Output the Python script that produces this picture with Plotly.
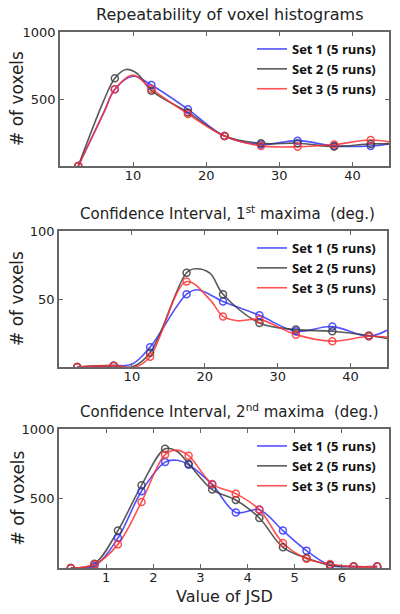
import plotly.graph_objects as go

# ---------------- data ----------------
# Panel 1: Repeatability of voxel histograms (marker positions)
x1 = [2.5, 7.5, 12.5, 17.5, 22.5, 27.5, 32.5, 37.5, 42.5]
p1_set1 = [0, 572, 604, 423, 224, 160, 189, 150, 149]
p1_set2 = [0, 654, 562, 400, 224, 169, 170, 145, 165]
p1_set3 = [0, 572, 575, 388, 224, 150, 144, 160, 194]
# curve readings (including peaks between markers and the right edge)
l1_set1_x = [2.5, 6, 7.5, 10, 12.5, 17.5, 22.5, 27.5, 32.5, 37.5, 42.5, 45]
l1_set1_y = [0, 400, 572, 670, 604, 423, 224, 160, 189, 150, 149, 165]
l1_set2_x = [2.5, 6, 7.5, 9, 10.5, 12.5, 17.5, 22.5, 27.5, 32.5, 37.5, 42.5, 45]
l1_set2_y = [0, 490, 654, 720, 692, 562, 400, 224, 169, 170, 145, 165, 165]
l1_set3_x = [2.5, 6, 7.5, 10, 12.5, 17.5, 22.5, 27.5, 32.5, 37.5, 42.5, 45]
l1_set3_y = [0, 400, 572, 678, 575, 388, 224, 150, 144, 160, 194, 180]

# Panel 2: Confidence Interval, 1st maxima
x2 = [2.5, 7.5, 12.5, 17.5, 22.5, 27.5, 32.5, 37.5, 42.5]
p2_set1 = [0, 1, 14.6, 53.5, 48.2, 38, 26.3, 29.7, 22.6]
p2_set2 = [0, 1, 10.5, 69.3, 53.5, 32.4, 27.5, 26.3, 23.1]
p2_set3 = [0, 1, 7.5, 62.8, 37.2, 35, 23.8, 19, 22.6]
l2_set1_x = [2.5, 7.5, 10, 12.5, 17.5, 19, 22.5, 27.5, 32.5, 37.5, 42.5, 45]
l2_set1_y = [0, 1, 2, 14.6, 53.5, 56.8, 48.2, 38, 26.3, 29.7, 22.6, 27]
l2_set2_x = [2.5, 7.5, 10, 12.5, 17.5, 18.7, 20.7, 22.5, 27.5, 32.5, 37.5, 42.5, 45]
l2_set2_y = [0, 1, 0, 10.5, 69.3, 72.2, 69, 53.5, 32.4, 27.5, 26.3, 23.1, 21]
l2_set3_x = [2.5, 7.5, 10.5, 12.5, 17.5, 20.7, 22.5, 24.5, 27.5, 32.5, 37.5, 42.5, 45]
l2_set3_y = [0, 1, 0, 7.5, 62.8, 49.5, 37.2, 34, 35, 23.8, 19, 22.6, 22]

# Panel 3: Confidence Interval, 2nd maxima
x3 = [0.25, 0.75, 1.25, 1.75, 2.25, 2.75, 3.25, 3.75, 4.25, 4.75, 5.25, 5.75, 6.25, 6.75]
p3_set1 = [0, 15, 216, 552, 762, 743, 600, 400, 419, 269, 125, 20, 10, 10]
p3_set2 = [0, 30, 269, 595, 858, 750, 564, 489, 360, 149, 72, 20, 10, 10]
p3_set3 = [0, 25, 170, 475, 815, 808, 604, 535, 420, 180, 67, 29, 10, 10]
l3_set1_x = [0.25, 0.75, 1.25, 1.75, 2.25, 2.5, 2.75, 3.25, 3.75, 4.25, 4.75, 5.25, 5.75, 6.25, 6.75]
l3_set1_y = [0, 15, 216, 552, 762, 775, 743, 600, 400, 419, 269, 125, 20, 10, 10]
l3_set2_x = [0.25, 0.75, 1.25, 1.75, 2.25, 2.5, 2.75, 3.25, 3.75, 4.25, 4.75, 5.25, 5.75, 6.25, 6.75]
l3_set2_y = [0, 30, 269, 595, 858, 840, 750, 564, 489, 360, 149, 72, 20, 10, 10]
l3_set3_x = [0.25, 0.75, 1.25, 1.75, 2.25, 2.5, 2.75, 3.25, 3.75, 4.25, 4.75, 5.25, 5.75, 6.25, 6.75]
l3_set3_y = [0, 25, 170, 475, 815, 848, 808, 604, 535, 420, 180, 67, 29, 10, 10]

series_names = ["Set 1 (5 runs)", "Set 2 (5 runs)", "Set 3 (5 runs)"]
colors = ["rgba(50,50,255,0.85)", "rgba(60,60,60,0.85)", "rgba(255,50,50,0.85)"]
titles = ["Repeatability of voxel histograms",
          "Confidence Interval, 1<sup>st</sup> maxima  (deg.)",
          "Confidence Interval, 2<sup>nd</sup> maxima  (deg.)"]

panels = [
    (x1, [p1_set1, p1_set2, p1_set3],
     [(l1_set1_x, l1_set1_y), (l1_set2_x, l1_set2_y), (l1_set3_x, l1_set3_y)]),
    (x2, [p2_set1, p2_set2, p2_set3],
     [(l2_set1_x, l2_set1_y), (l2_set2_x, l2_set2_y), (l2_set3_x, l2_set3_y)]),
    (x3, [p3_set1, p3_set2, p3_set3],
     [(l3_set1_x, l3_set1_y), (l3_set2_x, l3_set2_y), (l3_set3_x, l3_set3_y)]),
]

W, H = 400, 614
def px_x(p): return p / W
def px_y(p): return 1 - p / H

# plot areas in pixels (left, right, top, bottom)
areas = [(60, 389, 32, 166), (59, 387, 231, 367), (59, 389, 429, 568)]
xranges = [[0, 45], [0, 45], [0, 7]]
yranges = [[0, 1000], [0, 100], [0, 1000]]
yticks = [[500, 1000], [50, 100], [500, 1000]]
xticks = [[10, 20, 30, 40], [10, 20, 30, 40], [1, 2, 3, 4, 5, 6]]
title_sizes = [16, 15, 15]

fig = go.Figure()
layout = dict(width=W, height=H, autosize=False,
              margin=dict(l=0, r=0, t=0, b=0, pad=0),
              paper_bgcolor="white", plot_bgcolor="white",
              font=dict(family="DejaVu Sans", color="#222", size=13))
annotations = []

for i, (xs, ys, lines) in enumerate(panels):
    k = "" if i == 0 else str(i + 1)
    legname = "legend" + k
    for j in range(3):
        lx, ly = lines[j]
        fig.add_trace(go.Scatter(
            x=lx, y=ly, mode="lines", name=series_names[j],
            line=dict(color=colors[j], width=1.6, shape="spline", smoothing=1.0),
            xaxis="x" + k, yaxis="y" + k, legend=legname, showlegend=True))
    for j in range(3):
        fig.add_trace(go.Scatter(
            x=xs, y=ys[j], mode="markers", showlegend=False,
            marker=dict(symbol="circle-open", size=7, color=colors[j], line=dict(width=1.5)),
            xaxis="x" + k, yaxis="y" + k, hoverinfo="skip"))
    l, r, t, b = areas[i]
    axstyle = dict(showline=True, linecolor="#666", linewidth=1.5, mirror="ticks",
                   ticks="inside", ticklen=4, tickcolor="#666", showgrid=False,
                   zeroline=False, automargin=False,
                   tickfont=dict(family="DejaVu Sans", size=13, color="#222"))
    layout["xaxis" + k] = dict(domain=[px_x(l), px_x(r)], range=xranges[i],
                                tickvals=xticks[i], anchor="y" + k, ticklabelstandoff=-3, **axstyle)
    layout["yaxis" + k] = dict(domain=[px_y(b), px_y(t)], range=yranges[i],
                                tickvals=yticks[i], anchor="x" + k, **axstyle)
    layout[legname] = dict(x=px_x(252), y=px_y(t + 2), xanchor="left", yanchor="top",
                           bgcolor="rgba(0,0,0,0)", borderwidth=0,
                           font=dict(family="Open Sans", size=13, color="#111", weight="bold"),
                           itemwidth=30, tracegroupgap=0)
    annotations.append(dict(text=titles[i], x=px_x((l + r) / 2 + 5), y=px_y(t - 18), xref="paper", yref="paper",
                            showarrow=False, xanchor="center", yanchor="middle",
                            font=dict(family="DejaVu Sans", size=title_sizes[i], color="#222")))
    annotations.append(dict(text="# of voxels", x=px_x(17), y=px_y((t + b) / 2), xref="paper", yref="paper",
                            showarrow=False, textangle=-90, xanchor="center", yanchor="middle",
                            font=dict(family="DejaVu Sans", size=17, color="#222")))

annotations.append(dict(text="Value of JSD", x=px_x(224), y=px_y(596), xref="paper", yref="paper",
                        showarrow=False, xanchor="center", yanchor="middle",
                        font=dict(family="DejaVu Sans", size=16, color="#222")))
layout["annotations"] = annotations
fig.update_layout(**layout)
fig.write_html("out.html", config={"displayModeBar": False},
               post_script="document.body.style.margin='0';document.body.style.overflow='hidden';")
